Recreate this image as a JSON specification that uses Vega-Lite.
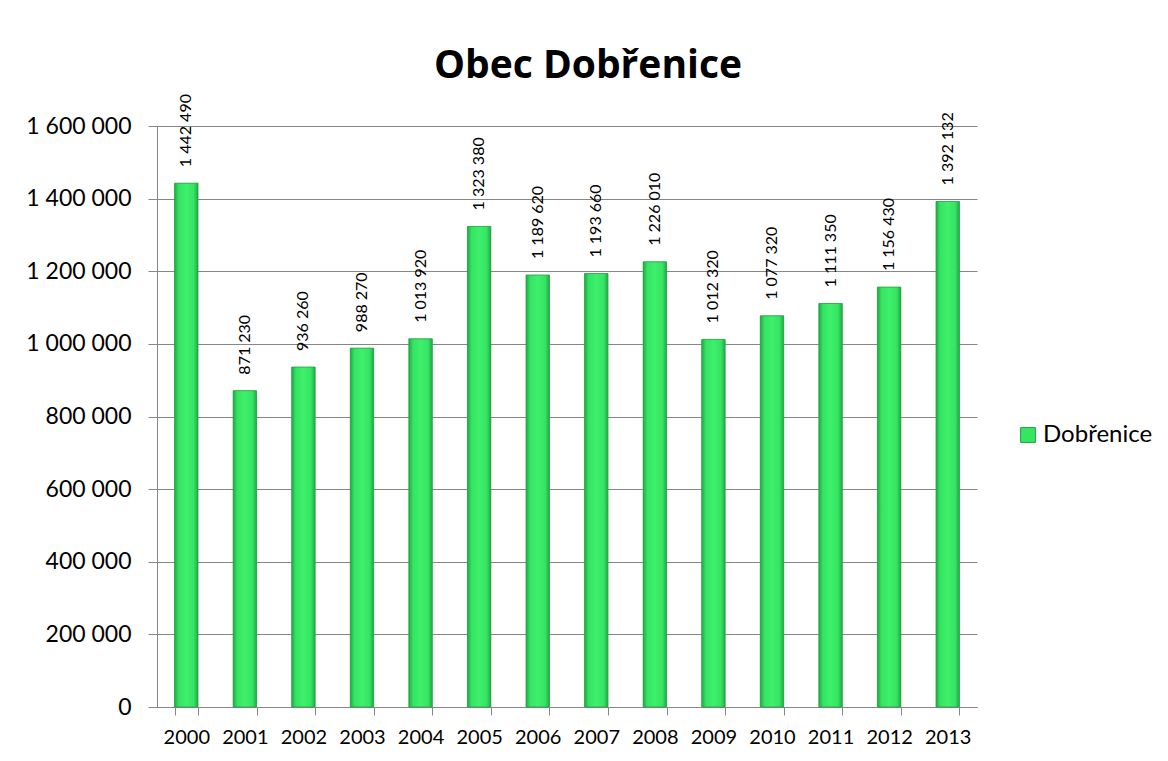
{
  "$schema": "https://vega.github.io/schema/vega-lite/v6.json",
  "width": 820,
  "height": 581,
  "autosize": {"type": "none"},
  "padding": {"left": 157, "top": 126, "right": 191, "bottom": 54},
  "background": "white",
  "config": {
    "font": "Lato",
    "view": {"stroke": null},
    "locale": {"number": {"decimal": ",", "thousands": " ", "grouping": [3], "currency": ["", " Kč"]}}
  },
  "title": {"text": "Obec Dobřenice", "fontSize": 39, "fontWeight": "bold", "font": "Open Sans", "anchor": "middle", "offset": 8, "dx": 21, "color": "black"},
  "data": {"values": [
    {"rok": "2000", "hodnota": 1442490},
    {"rok": "2001", "hodnota": 871230},
    {"rok": "2002", "hodnota": 936260},
    {"rok": "2003", "hodnota": 988270},
    {"rok": "2004", "hodnota": 1013920},
    {"rok": "2005", "hodnota": 1323380},
    {"rok": "2006", "hodnota": 1189620},
    {"rok": "2007", "hodnota": 1193660},
    {"rok": "2008", "hodnota": 1226010},
    {"rok": "2009", "hodnota": 1012320},
    {"rok": "2010", "hodnota": 1077320},
    {"rok": "2011", "hodnota": 1111350},
    {"rok": "2012", "hodnota": 1156430},
    {"rok": "2013", "hodnota": 1392132}
  ]},
  "encoding": {
    "x": {"field": "rok", "type": "nominal", "title": null,
      "scale": {"paddingInner": 0.6, "paddingOuter": 0.3},
      "axis": {"labelAngle": 0, "labelFontSize": 20, "labelColor": "black", "labelPadding": 12, "tickBand": "extent", "tickSize": 8, "tickColor": "#868686", "domainColor": "#868686", "grid": false}},
    "y": {"field": "hodnota", "type": "quantitative", "title": null,
      "scale": {"domain": [0, 1600000]},
      "axis": {"values": [0, 200000, 400000, 600000, 800000, 1000000, 1200000, 1400000, 1600000], "format": ",d", "labelFontSize": 23, "labelColor": "black", "labelPadding": 17, "tickSize": 9, "tickColor": "#868686", "domainColor": "#868686", "gridColor": "#868686", "gridOpacity": 1}}
  },
  "layer": [
    {
      "mark": {"type": "bar"},
      "encoding": {
        "color": {"datum": "Dobřenice", "type": "nominal",
          "scale": {"range": ["#33e860"]},
          "legend": {"title": null, "orient": "none", "legendX": 859, "legendY": 297, "symbolType": "square", "symbolSize": 220, "symbolStrokeColor": "#20a040", "symbolStrokeWidth": 1, "labelFontSize": 24, "labelColor": "black", "labelOffset": 3}}
      }
    },
    {
      "mark": {"type": "bar", "stroke": "#2a9e48", "strokeWidth": 0.8,
        "color": {"gradient": "linear", "x1": 0, "x2": 1, "y1": 0, "y2": 0,
          "stops": [
            {"offset": 0, "color": "#22a845"},
            {"offset": 0.18, "color": "#35e463"},
            {"offset": 0.5, "color": "#3ef06b"},
            {"offset": 0.82, "color": "#35e463"},
            {"offset": 1, "color": "#22a845"}
          ]}}
    },
    {
      "mark": {"type": "text", "angle": -90, "align": "left", "baseline": "middle", "dx": 16, "fontSize": 16, "color": "black"},
      "encoding": {"text": {"field": "hodnota", "type": "quantitative", "format": ",d"}}
    }
  ]
}
